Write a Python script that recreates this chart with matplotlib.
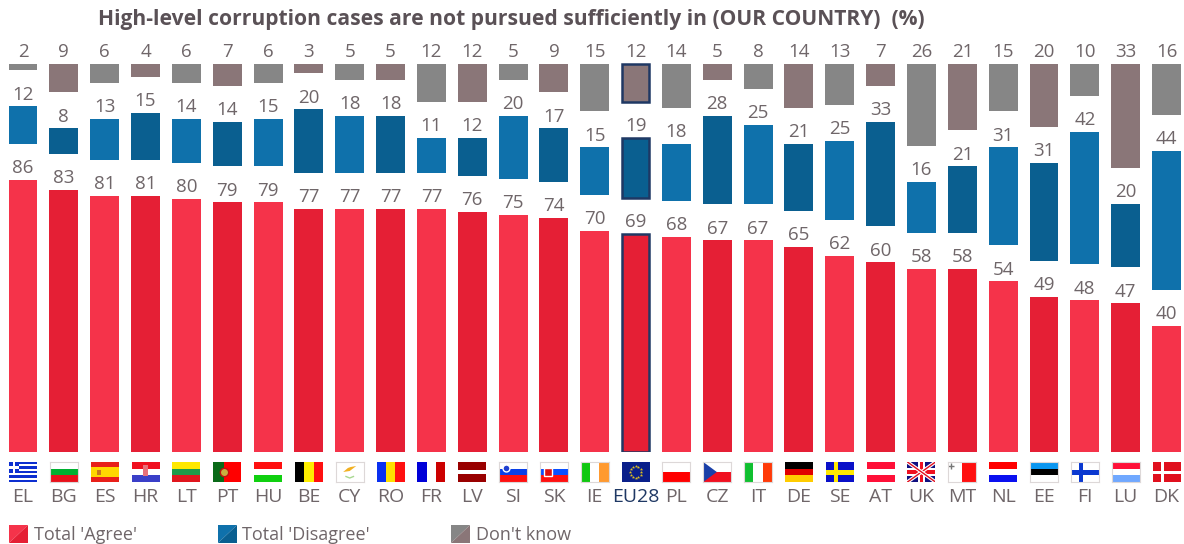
"""High-level corruption cases bar chart, with three floating bars per country"""

import numpy as np
import matplotlib
matplotlib.use('Agg')
import matplotlib.pyplot as plt
from matplotlib.legend_handler import HandlerBase
from matplotlib.patches import Polygon, Rectangle

countries = ['EL', 'BG', 'ES', 'HR', 'LT', 'PT', 'HU', 'BE', 'CY', 'RO', 'FR', 'LV', 'SI', 'SK', 'IE',
             'EU28', 'PL', 'CZ', 'IT', 'DE', 'SE', 'AT', 'UK', 'MT', 'NL', 'EE', 'FI', 'LU', 'DK']
agree = [86, 83, 81, 81, 80, 79, 79, 77, 77, 77, 77, 76, 75, 74, 70,
         69, 68, 67, 67, 65, 62, 60, 58, 58, 54, 49, 48, 47, 40]
disagree = [12, 8, 13, 15, 14, 14, 15, 20, 18, 18, 11, 12, 20, 17, 15,
            19, 18, 28, 25, 21, 25, 33, 16, 21, 31, 31, 42, 20, 44]
dont_know = [2, 9, 6, 4, 6, 7, 6, 3, 5, 5, 12, 12, 5, 9, 15,
             12, 14, 5, 8, 14, 13, 7, 26, 21, 15, 20, 10, 33, 16]
series_names = ["Total 'Agree'", "Total 'Disagree'", "Don't know"]
title = 'High-level corruption cases are not pursued sufficiently in (OUR COUNTRY)  (%)'

# colours alternate from one country to the next
reds = ['#F5334A', '#E51F35']
blues = ['#0F71AB', '#0A5F90']
greys = ['#868686', '#8A7678']
navy = '#1F3864'
text_col = '#6F6669'
title_col = '#5A5156'

# stripes: (direction, colours)
flag_stripes = {
    'EL': ('h', ['#0D2FD0', 'white'] * 4 + ['#0D2FD0']),
    'BG': ('h', ['white', '#00B030', '#E8101A']),
    'ES': ('h', ['#E8201A', '#FFD800', '#FFD800', '#E8201A']),
    'HR': ('h', ['#F01020', 'white', '#3A3FC8']),
    'LT': ('h', ['#FFE800', '#1E9A4A', '#E0161E']),
    'PT': ('v', ['#0A6A18', '#0A6A18', '#FF0000', '#FF0000', '#FF0000']),
    'HU': ('h', ['#FF1010', 'white', '#10D010']),
    'BE': ('v', ['black', '#FFEE00', '#FF1010']),
    'CY': ('h', ['white']),
    'RO': ('v', ['#0A30F0', '#FFE000', '#FF1010']),
    'FR': ('v', ['#0000D8', 'white', '#CC0000']),
    'LV': ('h', ['#990000', '#990000', 'white', '#990000', '#990000']),
    'SI': ('h', ['white', '#0A40E8', '#FF1010']),
    'SK': ('h', ['white', '#0A50FF', '#FF1010']),
    'IE': ('v', ['#10C810', 'white', '#FF9A30']),
    'EU28': ('h', ['#0A1F8A']),
    'PL': ('h', ['white', '#FF0000']),
    'CZ': ('h', ['white', '#F01020']),
    'IT': ('v', ['#10C030', 'white', '#FF3A08']),
    'DE': ('h', ['black', '#E00000', '#FFCC00']),
    'SE': ('h', ['#0A10C8']),
    'AT': ('h', ['#FF1038', 'white', '#FF1038']),
    'UK': ('h', ['#101080']),
    'MT': ('v', ['white', '#FF1010']),
    'NL': ('h', ['#FF0000', 'white', '#0A10F0']),
    'EE': ('h', ['#0A96F0', 'black', 'white']),
    'FI': ('h', ['white']),
    'LU': ('h', ['#FF1038', 'white', '#70A8FF']),
    'DK': ('h', ['#E0101E']),
}
bordered = ['BG', 'CY', 'SI', 'SK', 'IE', 'PL', 'CZ', 'IT', 'MT', 'EE', 'FI', 'LU']
gap = 11.4   # empty space between the stacked series
y_scale = 3.16   # pixels per percentage point
pitch = 40.84


def draw_cross(fax, col, x=1.1, w=0.5, h=0.5):
    fax.add_patch(Rectangle((x - w / 2, 0), w, 2, color=col, lw=0))
    fax.add_patch(Rectangle((0, 1 - h / 2), 3, h, color=col, lw=0))


def draw_flag(fax, code):
    """Draw one flag in a 3 x 2 box"""
    kind, cols = flag_stripes[code]
    n = len(cols)
    for k, col in enumerate(cols):
        if kind == 'h':
            fax.add_patch(Rectangle((0, 2 - 2 * (k + 1) / n), 3, 2 / n, color=col, lw=0))
        else:
            fax.add_patch(Rectangle((3 * k / n, 0), 3 / n, 2, color=col, lw=0))

    if code == 'EL':
        fax.add_patch(Rectangle((0, 2 - 10 / 9), 10 / 9, 10 / 9, color='#0D2FD0', lw=0))
        fax.add_patch(Rectangle((0, 2 - 6 / 9), 10 / 9, 2 / 9, color='white', lw=0))
        fax.add_patch(Rectangle((4 / 9, 2 - 10 / 9), 2 / 9, 10 / 9, color='white', lw=0))
    elif code == 'ES':
        fax.add_patch(Rectangle((0.7, 0.75), 0.4, 0.5, color='#C9781E', lw=0))
    elif code == 'HR':
        fax.add_patch(Rectangle((1.25, 0.6), 0.5, 1.1, color='#E8707A', lw=0))
    elif code == 'PT':
        fax.plot(1.2, 1, 'o', ms=6, mfc='#C8B040', mec='#C01010', mew=1)
    elif code == 'CY':
        fax.add_patch(Polygon([[0.8, 1.0], [1.5, 1.1], [2.2, 1.6], [1.6, 1.5], [1.3, 1.4]], color='#F2B020', lw=0))
        fax.plot([1.1, 1.5, 1.9], [0.55, 0.4, 0.55], color='#A8D890', lw=1)
    elif code == 'SI':
        fax.plot(0.7, 1.4, 'o', ms=5, mfc='#2040D0', mec='white', mew=1)
    elif code == 'SK':
        fax.plot(0.85, 1.05, 's', ms=6, mfc='#E01010', mec='white', mew=1)
    elif code == 'EU28':
        ang = np.linspace(0, 2 * np.pi, 12, endpoint=False)
        fax.plot(1.5 + 0.62 * np.cos(ang), 1 + 0.62 * np.sin(ang), '*', color='#E0C020', ms=2.5, mew=0)
    elif code == 'CZ':
        fax.add_patch(Polygon([[0, 0], [0, 2], [1.45, 1]], color='#1A3FA8', lw=0))
    elif code == 'SE':
        draw_cross(fax, '#FFE800')
    elif code == 'UK':
        for a, b in [((0, 0), (3, 2)), ((0, 2), (3, 0))]:
            fax.plot([a[0], b[0]], [a[1], b[1]], color='white', lw=2.6)
            fax.plot([a[0], b[0]], [a[1], b[1]], color='#E01020', lw=1)
        draw_cross(fax, 'white', x=1.5, w=0.75, h=0.75)
        draw_cross(fax, '#F01020', x=1.5, w=0.42, h=0.42)
    elif code == 'MT':
        fax.plot(0.3, 1.65, '+', color='#777777', ms=4, mew=1)
    elif code == 'FI':
        draw_cross(fax, '#0A38D0')
    elif code == 'DK':
        draw_cross(fax, 'white', x=1.05, w=0.3, h=0.3)


class HandlerSplit(HandlerBase):
    """Legend swatch split in two shades along its diagonal"""

    def create_artists(self, legend, orig_handle, xdescent, ydescent, width, height, fontsize, trans):
        x0, y0 = -xdescent, -ydescent
        light = Polygon([[x0, y0], [x0, y0 + height], [x0 + width, y0 + height]],
                        color=orig_handle[0], lw=0, transform=trans)
        dark = Polygon([[x0, y0], [x0 + width, y0], [x0 + width, y0 + height]],
                       color=orig_handle[1], lw=0, transform=trans)
        return [light, dark]


plt.rcParams['font.family'] = ['Open Sans', 'DejaVu Sans']

fig = plt.figure(figsize=(11.84, 5.44), dpi=100)
ax = fig.add_axes([0, 92 / 544, 1, (452 - 40) / 544])

x = np.arange(len(countries))
agree_arr = np.array(agree)
disagree_arr = np.array(disagree)
dont_know_arr = np.array(dont_know)
eu = countries.index('EU28')

for values, bottom, cols in [(agree_arr, 0 * agree_arr, reds),
                             (disagree_arr, agree_arr + gap, blues),
                             (dont_know_arr, agree_arr + disagree_arr + 2 * gap, greys)]:
    colours = [cols[i % 2] for i in x]
    bars = ax.bar(x, values, 0.71, bottom=bottom, color=colours, edgecolor='none')
    bars[eu].set_width(0.67)
    bars[eu].set_x(eu - 0.335)
    bars[eu].set_edgecolor(navy)
    bars[eu].set_linewidth(1.8)
    ax.bar_label(bars, labels=[str(v) for v in values], padding=2, fontsize=13.5, color=text_col)

ax.set_xlim(-23 / pitch, (1184 - 23) / pitch)
ax.set_ylim(0, (452 - 40) / y_scale)
ax.set_yticks([])
ax.set_xticks(x)
ax.set_xticklabels(countries, fontsize=14, color=text_col)
ax.get_xticklabels()[eu].set_color(navy)
ax.tick_params(axis='x', length=0, pad=26)
for side in ax.spines:
    ax.spines[side].set_visible(False)

# flags sit below the axis, under their bars
for i, code in enumerate(countries):
    fax = ax.inset_axes([i - 14 / pitch, -30 / y_scale, 28 / pitch, 20 / y_scale], transform=ax.transData)
    fax.set_xlim(0, 3)
    fax.set_ylim(0, 2)
    fax.set_xticks([])
    fax.set_yticks([])
    for side in fax.spines:
        fax.spines[side].set_visible(code in bordered)
        fax.spines[side].set_color('#DDD8D8')
        fax.spines[side].set_linewidth(0.8)
    draw_flag(fax, code)

fig.text(511 / 1184, 1 - 20 / 544, title, ha='center', va='center', fontsize=15.1, fontweight='bold', color=title_col)

fig.legend([tuple(reds), tuple(blues), tuple(greys)], series_names,
           handler_map={tuple: HandlerSplit()}, loc='lower left', bbox_to_anchor=(-7 / 1184, -16 / 544),
           ncol=3, frameon=False, fontsize=13, labelcolor=text_col, handlelength=1.05, handleheight=1.15,
           handletextpad=0.3, columnspacing=4.5)

plt.savefig('out.png', dpi=100)
